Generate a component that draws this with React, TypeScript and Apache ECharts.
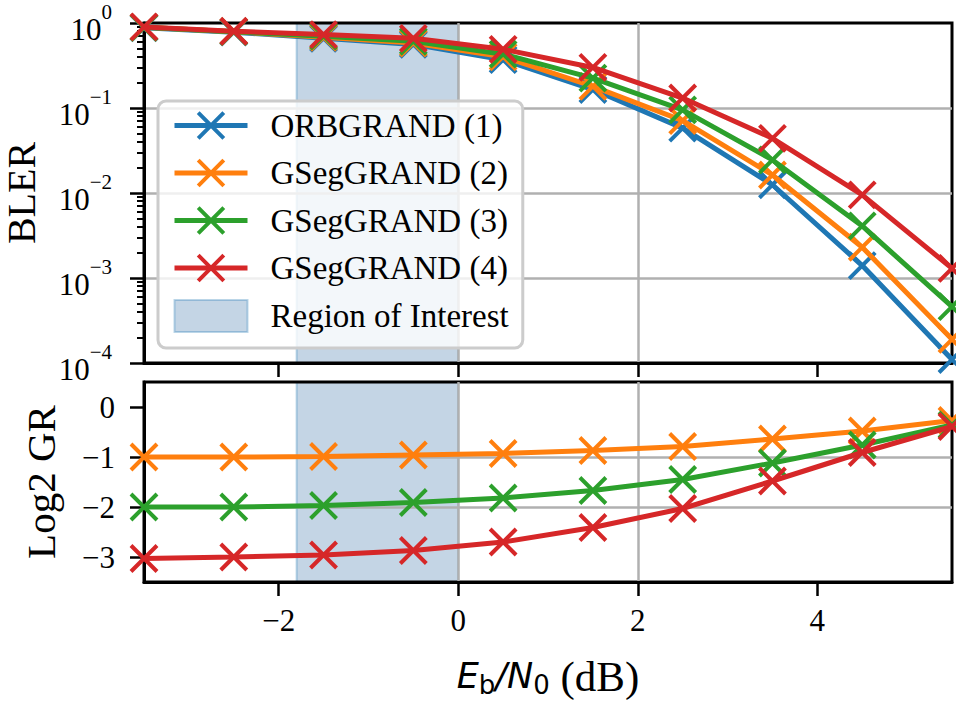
import React, { useEffect, useRef } from "react";
import * as echarts from "echarts";

// ---- data ----
const EBN0 = [-3.5, -2.5, -1.5, -0.5, 0.5, 1.5, 2.5, 3.5, 4.5, 5.5];

const BLER_ORB1 = [0.88, 0.78, 0.66, 0.56, 0.37, 0.165, 0.058, 0.0125, 0.0014, 0.00011];
const BLER_GSEG2 = [0.89, 0.79, 0.68, 0.58, 0.40, 0.18, 0.071, 0.0163, 0.0023, 0.00019];
const BLER_GSEG3 = [0.89, 0.79, 0.70, 0.61, 0.43, 0.225, 0.095, 0.0245, 0.0041, 0.00046];
const BLER_GSEG4 = [0.90, 0.80, 0.73, 0.66, 0.49, 0.30, 0.131, 0.044, 0.0095, 0.0013];

const GR_GSEG2 = [-1.0, -1.0, -0.99, -0.96, -0.93, -0.87, -0.79, -0.64, -0.48, -0.27];
const GR_GSEG3 = [-2.0, -2.0, -1.97, -1.91, -1.82, -1.67, -1.45, -1.12, -0.76, -0.36];
const GR_GSEG4 = [-3.03, -3.0, -2.96, -2.87, -2.70, -2.41, -2.03, -1.48, -0.91, -0.39];

const NAMES = ["ORBGRAND (1)", "GSegGRAND (2)", "GSegGRAND (3)", "GSegGRAND (4)"];
const ROI_NAME = "Region of Interest";
const ROI = [-1.8, 0];

const X_TICKS = [-2, 0, 2, 4];
const GR_TICKS = [-3, -2, -1, 0];
const BLER_DECADES = [-4, -3, -2, -1, 0];
const MINOR_MULT = [2, 3, 4, 5, 6, 7, 8, 9];

// ---- styles ----
const COLORS = ["#1f77b4", "#ff7f0e", "#2ca02c", "#d62728"];
const ROI_FILL = "rgba(60,115,170,0.3)";
const ROI_EDGE = "rgba(31,119,180,0.3)";
const GRID_COLOR = "#b0b0b0";
const SERIF = "Liberation Serif";
const MATH = "DejaVu Sans";
const XMARK = "path://M0,0L10,10M10,0L0,10";
const LINE_W = 5;
const MARK_W = 4;

const minorTicks: number[] = [];
BLER_DECADES.slice(0, -1).forEach((d) =>
  MINOR_MULT.forEach((m) => minorTicks.push(d + Math.log10(m)))
);

const minusFmt = (v: number) => String(v).replace("-", "\u2212");

function lineSeries(name: string, color: string, xs: number[], ys: number[], xi: number, yi: number, z: number) {
  return {
    type: "line",
    name,
    xAxisIndex: xi,
    yAxisIndex: yi,
    data: xs.map((x, i) => [x, ys[i]]),
    symbol: XMARK,
    symbolSize: 26,
    lineStyle: { width: LINE_W, color },
    itemStyle: { color, borderColor: color, borderWidth: MARK_W },
    emphasis: { disabled: true },
    z,
  };
}

function roiSeries(xi: number, yi: number) {
  return {
    type: "line",
    name: ROI_NAME,
    xAxisIndex: xi,
    yAxisIndex: yi,
    data: [],
    symbol: "none",
    itemStyle: { color: ROI_FILL },
    lineStyle: { width: 0 },
    z: -1,
    markArea: {
      silent: true,
      z: -1,
      itemStyle: { color: ROI_FILL, borderColor: ROI_EDGE, borderWidth: 2 },
      data: [[{ xAxis: ROI[0] }, { xAxis: ROI[1] }]],
    },
  };
}

export default function App() {
  const ref = useRef<HTMLDivElement>(null);

  useEffect(() => {
    if (!ref.current) return;
    const chart = echarts.init(ref.current, undefined, { renderer: "svg" });

    const tickLine = { lineStyle: { color: "#000", width: 2.5 } };
    const axisLine = { show: true, onZero: false, lineStyle: { color: "#000", width: 3 } };
    const split = { show: true, showMinLine: false, showMaxLine: false, lineStyle: { color: GRID_COLOR, width: 2.5 } };

    const blerLists = [BLER_ORB1, BLER_GSEG2, BLER_GSEG3, BLER_GSEG4];
    const grLists = [GR_GSEG2, GR_GSEG3, GR_GSEG4];

    const gridBase = {
      left: 144, right: 4, show: true, borderColor: "#000", borderWidth: 3,
      backgroundColor: "transparent", containLabel: false, outerBoundsMode: "none",
    };

    const option: any = {
      animation: false,
      backgroundColor: "#ffffff",
      textStyle: { fontFamily: SERIF, color: "#000" },
      grid: [
        { ...gridBase, top: 23, height: 340 },
        { ...gridBase, top: 382, height: 200 },
      ],
      xAxis: [
        {
          gridIndex: 0, type: "value", min: -3.5, max: 5.5, position: "bottom",
          axisLine,
          axisTick: { show: true, customValues: X_TICKS, length: 14, ...tickLine },
          axisLabel: { show: false },
          splitLine: split,
        },
        {
          gridIndex: 1, type: "value", min: -3.5, max: 5.5, position: "bottom",
          axisLine,
          axisTick: { show: true, customValues: X_TICKS, length: 14, ...tickLine },
          axisLabel: { customValues: X_TICKS, formatter: minusFmt, fontSize: 31, margin: 23, color: "#000", fontFamily: SERIF },
          splitLine: split,
          name: "{e|E}{sub|b}{e|/N}{sub|0}{t| (dB)}",
          nameLocation: "middle",
          nameGap: 72,
          nameTextStyle: {
            lineHeight: 44,
            rich: {
              e: { fontFamily: MATH, fontStyle: "italic", fontSize: 35, color: "#000" },
              sub: { fontFamily: MATH, fontSize: 26, verticalAlign: "bottom", color: "#000" },
              t: { fontFamily: SERIF, fontSize: 43, color: "#000" },
            },
          },
        },
      ],
      yAxis: [
        {
          gridIndex: 0, type: "value", min: -4, max: 0, interval: 1, position: "left",
          axisLine,
          axisTick: { show: true, length: 14, ...tickLine },
          axisLabel: {
            margin: 32,
            formatter: (v: number) => {
              const e = Math.round(v);
              return `{m|10}{s|${e === 0 ? "0" : "\u2212" + Math.abs(e)}}`;
            },
            rich: {
              m: { fontSize: 31, lineHeight: 43, verticalAlign: "bottom", fontFamily: SERIF, color: "#000" },
              s: { fontSize: 21, verticalAlign: "top", fontFamily: SERIF, color: "#000" },
            },
          },
          splitLine: split,
          name: "BLER",
          nameLocation: "middle",
          nameGap: 103,
          nameTextStyle: { fontSize: 40, lineHeight: 40, fontFamily: SERIF, color: "#000" },
        },
        {
          gridIndex: 0, type: "value", min: -4, max: 0, position: "left",
          axisLine: { show: false, onZero: false },
          axisTick: { show: true, customValues: minorTicks, length: 7, lineStyle: { color: "#000", width: 2 } },
          axisLabel: { show: false },
          splitLine: { show: false },
        },
        {
          gridIndex: 1, type: "value", min: -3.5, max: 0.5, position: "left",
          axisLine,
          axisTick: { show: true, customValues: GR_TICKS, length: 14, ...tickLine },
          axisLabel: { customValues: GR_TICKS, formatter: minusFmt, fontSize: 31, margin: 29, color: "#000", fontFamily: SERIF },
          splitLine: split,
          name: "Log2 GR",
          nameLocation: "middle",
          nameGap: 83,
          nameTextStyle: { fontSize: 41, fontFamily: SERIF, color: "#000" },
        },
      ],
      legend: {
        orient: "vertical",
        left: 158,
        top: 101,
        padding: [8, 14, 15, 14],
        itemGap: 14.5,
        itemWidth: 73,
        itemHeight: 32,
        selectedMode: false,
        backgroundColor: "rgba(255,255,255,0.8)",
        borderColor: "#cccccc",
        borderWidth: 3,
        borderRadius: 8,
        lineStyle: { width: LINE_W },
        itemStyle: { borderWidth: MARK_W },
        textStyle: { fontSize: 33, fontFamily: SERIF, color: "#000", padding: [0, 0, 0, 18] },
        data: [
          ...NAMES,
          { name: ROI_NAME, icon: "rect", itemStyle: { color: ROI_FILL, borderColor: ROI_EDGE, borderWidth: 2 } },
        ],
      },
      series: [
        roiSeries(0, 0),
        roiSeries(1, 2),
        ...blerLists.map((ys, i) =>
          lineSeries(NAMES[i], COLORS[i], EBN0, ys.map((v) => Math.log10(v)), 0, 0, 3 + i)
        ),
        ...grLists.map((ys, i) => lineSeries(NAMES[i + 1], COLORS[i + 1], EBN0, ys, 1, 2, 3 + i)),
      ],
    };

    chart.setOption(option);
    return () => chart.dispose();
  }, []);

  return (
    <div
      ref={ref}
      style={{ position: "fixed", left: 0, top: 0, width: 956, height: 711, background: "#fff" }}
    />
  );
}
